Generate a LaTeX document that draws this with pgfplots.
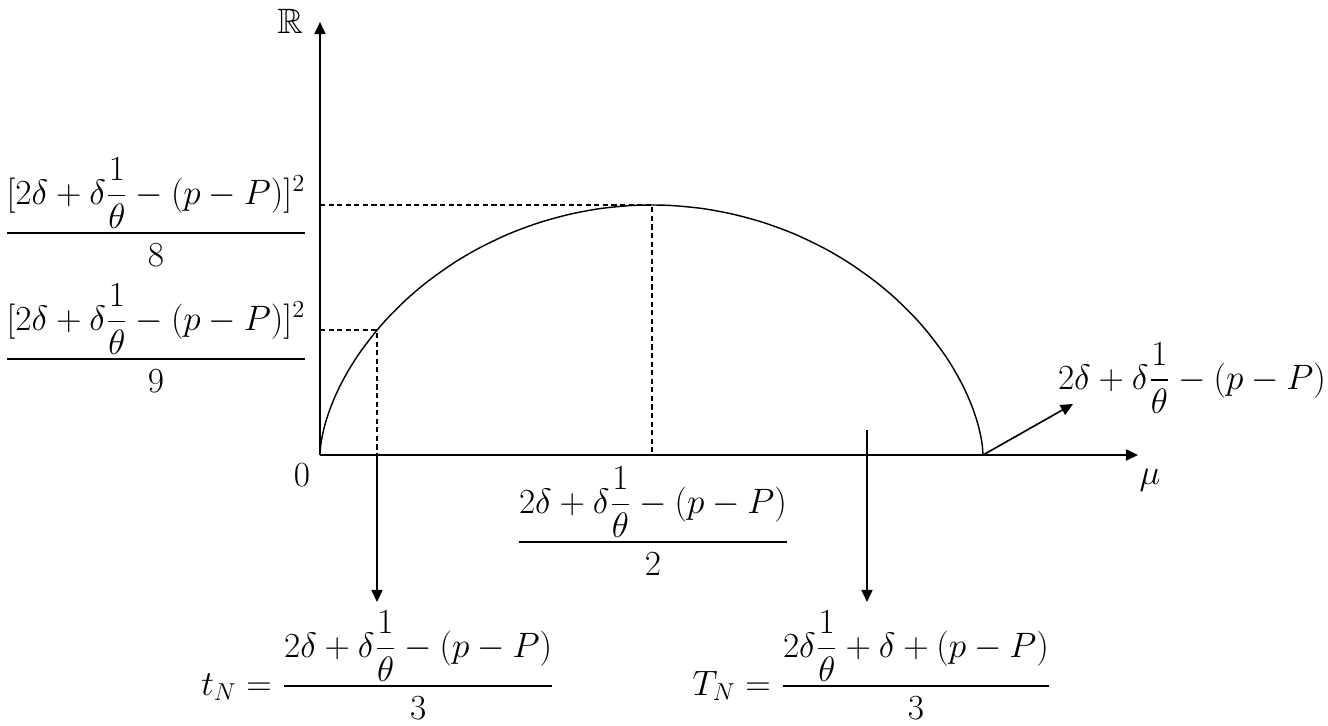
\documentclass[border=0pt]{standalone}
\usepackage{amsmath}
\usepackage{amssymb}
\usepackage{pgfplots}
\pgfplotsset{compat=1.18}
\usetikzlibrary{arrows.meta}

\begin{document}
\begin{tikzpicture}[
  lbl/.style={font=\fontsize{17.28}{21}\selectfont, inner sep=0pt},
  dsh/.style={line width=0.7pt, dash pattern=on 2.5pt off 1.7pt},
  arr/.style={line width=0.8pt, -{Triangle[length=6pt,width=5.5pt]}},
]
\begin{axis}[
  x=0.49pt, y=0.49pt,
  xmin=0, xmax=818, ymin=0, ymax=433,
  axis lines=middle,
  axis line style={line width=0.9pt, -{Triangle[length=6pt,width=5.5pt]}},
  ticks=none,
  clip=false,
]
% invisible frame, sets the picture's size
\path (axis cs:-320,-270) rectangle (axis cs:1008,455);

% the curve
\addplot[line width=0.7pt, smooth] coordinates {
  (0,0) (0.5,7.7) (1,11.6) (2,17.6) (4,26.7) (7,37.2) (11,48.6) (16,60.6)
  (22,72.9) (30,87.2) (40,102.6) (55,122.4) (70,139.4) (90,158.8)
  (110,175.3) (135,192.8) (160,207.4) (190,221.6) (220,232.6) (250,240.8)
  (280,246.4) (310,249.4) (331.5,250)
  (353,249.4) (383,246.4) (413,240.8) (443,232.6) (473,221.6) (503,207.4)
  (528,192.8) (553,175.3) (573,158.8) (593,139.4) (608,122.4) (623,102.6)
  (633,87.2) (641,72.9) (647,60.6) (652,48.6) (656,37.2) (659,26.7)
  (661,17.6) (662,11.6) (662.5,7.7) (663,0)
};

% dashed guides
\addplot[dsh] coordinates {(0,250) (332,250) (332,0)};
\addplot[dsh] coordinates {(0,125) (57,125) (57,0)};

% arrows
\addplot[arr] coordinates {(57,0) (57,-147)};
\addplot[arr] coordinates {(547,25) (547,-147)};
\addplot[arr] coordinates {(663,0) (753,51)};

% labels
\node[lbl] at (axis cs:-30,434) {$\mathbb{R}$};
\node[lbl] at (axis cs:830,-25) {$\mu$};
\node[lbl] at (axis cs:-18,-20) {$0$};
\node[lbl, anchor=base] at (axis cs:-164,213)
  {$\dfrac{[2\delta+\delta\dfrac{1}{\theta}-(p-P)]^2}{8}$};
\node[lbl, anchor=base] at (axis cs:-164,87)
  {$\dfrac{[2\delta+\delta\dfrac{1}{\theta}-(p-P)]^2}{9}$};
\node[lbl, anchor=base] at (axis cs:333,-96)
  {$\dfrac{2\delta+\delta\dfrac{1}{\theta}-(p-P)}{2}$};
\node[lbl, anchor=base] at (axis cs:872,66)
  {$2\delta+\delta\dfrac{1}{\theta}-(p-P)$};
\node[lbl, anchor=base] at (axis cs:58,-240)
  {$t_N=\dfrac{2\delta+\delta\dfrac{1}{\theta}-(p-P)}{3}$};
\node[lbl, anchor=base] at (axis cs:552,-240)
  {$T_N=\dfrac{2\delta\dfrac{1}{\theta}+\delta+(p-P)}{3}$};
\end{axis}
\end{tikzpicture}
\end{document}
